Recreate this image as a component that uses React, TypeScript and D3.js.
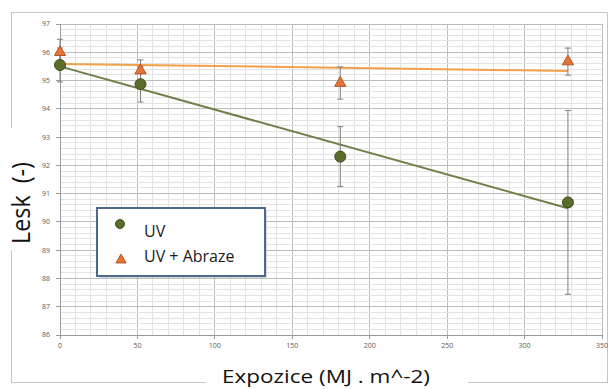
import React from 'react';
import * as d3 from 'd3';

// data
const exposure = [0, 52, 181, 328];
const uvValues = [95.55, 94.87, 92.31, 90.69];
const uvErrors = [0.6, 0.63, 1.06, 3.25];
const abrValues = [96.0, 95.35, 94.91, 95.67];
const abrErrors = [0.46, 0.38, 0.57, 0.48];
const xTicks = [0, 50, 100, 150, 200, 250, 300, 350];
const yTicks = [86, 87, 88, 89, 90, 91, 92, 93, 94, 95, 96, 97];
const seriesNames = ['UV', 'UV + Abraze'];

const W = 608;
const H = 389;
const font = "'Open Sans', 'DejaVu Sans', sans-serif";

// least squares line, like Excel's linear trendline
const fit = (xs: number[], ys: number[]) => {
  const mx = d3.mean(xs)!;
  const my = d3.mean(ys)!;
  const num = d3.sum(xs, (x, i) => (x - mx) * (ys[i] - my));
  const den = d3.sum(xs, x => (x - mx) * (x - mx));
  const slope = num / den;
  return (x: number) => my + slope * (x - mx);
};

const App = () => {
  const x = d3.scaleLinear().domain([0, 350]).range([60, 602]);
  const y = d3.scaleLinear().domain([86, 97]).range([335, 24]);

  const minorX = d3.range(0, 351, 10);
  const minorY = d3.range(86, 97.001, 0.2);

  const uvFit = fit(exposure, uvValues);
  const abrFit = fit(exposure, abrValues);
  const xEnd = exposure[exposure.length - 1];
  const line = d3.line<number>().x(d => x(d));

  const tri = d3.symbol().type(d3.symbolTriangle).size(55)();

  const errorBar = (xv: number, v: number, e: number, k: string) => (
    <g key={k} stroke="#7f7f7f" strokeWidth={1}>
      <line x1={x(xv)} x2={x(xv)} y1={y(v - e)} y2={y(v + e)} />
      <line x1={x(xv) - 3} x2={x(xv) + 3} y1={y(v - e)} y2={y(v - e)} />
      <line x1={x(xv) - 3} x2={x(xv) + 3} y1={y(v + e)} y2={y(v + e)} />
    </g>
  );

  return (
    <svg width={W} height={H} style={{ position: 'absolute', left: 0, top: 0, background: '#fff' }}>
      {/* chart frame */}
      <rect x={11.5} y={12.5} width={596} height={370} fill="none" stroke="#c6c6c6" />

      {/* grid */}
      <g shapeRendering="crispEdges">
        {minorX.map(v => (
          <line key={'mx' + v} x1={x(v)} x2={x(v)} y1={y(86)} y2={y(97)}
            stroke={v % 50 === 0 ? '#bdbdbd' : '#e2e2e2'} />
        ))}
        {minorY.map((v, i) => (
          <line key={'my' + i} x1={x(0)} x2={x(350)} y1={y(v)} y2={y(v)}
            stroke={i % 5 === 0 ? '#bdbdbd' : '#e4e4e4'} />
        ))}
        <line x1={x(0)} x2={x(0)} y1={y(86)} y2={y(97)} stroke="#9a9a9a" />
        <line x1={x(0)} x2={x(350)} y1={y(86)} y2={y(86)} stroke="#9a9a9a" />
        {yTicks.map(t => (
          <line key={'yt' + t} x1={x(0) - 4} x2={x(0)} y1={y(t)} y2={y(t)} stroke="#9a9a9a" />
        ))}
        {xTicks.map(t => (
          <line key={'xt' + t} x1={x(t)} x2={x(t)} y1={y(86)} y2={y(86) + 4} stroke="#9a9a9a" />
        ))}
      </g>

      {/* tick labels */}
      <g fontFamily={font} fontSize={7} fill="#595959">
        {yTicks.map(t => (
          <text key={'yl' + t} x={x(0) - 10} y={y(t)} dy="0.35em" textAnchor="end">{t}</text>
        ))}
        {xTicks.map(t => (
          <text key={'xl' + t} x={x(t)} y={y(86) + 13} textAnchor="middle">{t}</text>
        ))}
      </g>

      {/* trendlines */}
      <path d={line.y(d => y(uvFit(d)))([0, xEnd]) ?? ''} stroke="#6f8046" strokeWidth={2} fill="none" />
      <path d={line.y(d => y(abrFit(d)))([0, xEnd]) ?? ''} stroke="#f4a04a" strokeWidth={2} fill="none" />

      {/* error bars */}
      {exposure.map((xv, i) => errorBar(xv, uvValues[i], uvErrors[i], 'ue' + i))}
      {exposure.map((xv, i) => errorBar(xv, abrValues[i], abrErrors[i], 'ae' + i))}

      {/* markers */}
      {exposure.map((xv, i) => (
        <path key={'am' + i} d={tri ?? ''} transform={`translate(${x(xv)},${y(abrValues[i])})`}
          fill="#e6733a" stroke="#b5541f" strokeWidth={1} />
      ))}
      {exposure.map((xv, i) => (
        <circle key={'um' + i} cx={x(xv)} cy={y(uvValues[i])} r={5.5}
          fill="#5b6d2b" stroke="#3f4d1c" strokeWidth={1} />
      ))}

      {/* legend */}
      <g>
        <rect x={99} y={210} width={168} height={68} fill="#8c9bb0" opacity={0.35} />
        <rect x={97} y={208} width={168} height={68} fill="#fff" stroke="#4b6a8c" strokeWidth={2} />
        <circle cx={120} cy={224} r={4.5} fill="#5b6d2b" stroke="#3f4d1c" />
        <path d={d3.symbol().type(d3.symbolTriangle).size(45)() ?? ''} transform="translate(121,260)"
          fill="#e6733a" stroke="#b5541f" />
        <g fontFamily={font} fontSize={16} fill="#1a1a1a">
          <text x={144} y={237}>{seriesNames[0]}</text>
          <text x={144} y={262}>{seriesNames[1]}</text>
        </g>
      </g>

      {/* axis titles with white backing over the frame */}
      <rect x={5} y={128} width={30} height={122} fill="#fff" />
      <text transform="translate(30,203) rotate(-90)" textAnchor="middle" fontFamily={font}
        fontSize={26} fill="#111" textLength={82} lengthAdjust="spacingAndGlyphs">{'Lesk\u00a0\u00a0(-)'}</text>
      <rect x={206} y={366} width={262} height={23} fill="#fff" />
      <text x={222} y={383} fontFamily={font} fontSize={19} fill="#111"
        textLength={208} lengthAdjust="spacingAndGlyphs">Expozice (MJ . m^-2)</text>
    </svg>
  );
};

export default App;
